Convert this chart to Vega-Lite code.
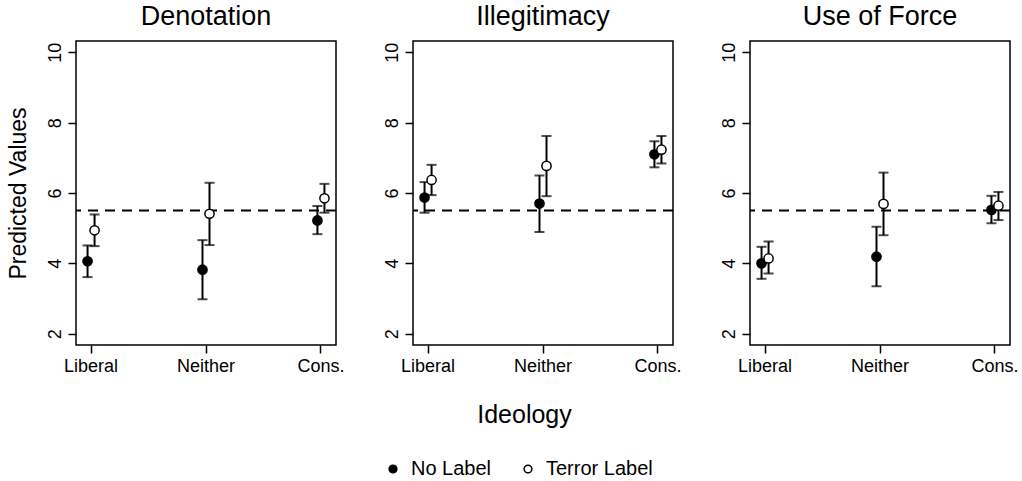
{
  "$schema": "https://vega.github.io/schema/vega-lite/v6.json",
  "padding": {"left": 6, "top": 2, "right": 5, "bottom": 5},
  "background": "white",
  "bounds": "flush",
  "spacing": 77,
  "datasets": {
    "est": [
      {"panel": "Denotation", "ideology": "Liberal", "group": "No Label", "est": 4.06, "lo": 3.61, "hi": 4.51},
      {"panel": "Denotation", "ideology": "Liberal", "group": "Terror Label", "est": 4.94, "lo": 4.49, "hi": 5.39},
      {"panel": "Denotation", "ideology": "Neither", "group": "No Label", "est": 3.82, "lo": 2.98, "hi": 4.66},
      {"panel": "Denotation", "ideology": "Neither", "group": "Terror Label", "est": 5.41, "lo": 4.52, "hi": 6.29},
      {"panel": "Denotation", "ideology": "Cons.", "group": "No Label", "est": 5.22, "lo": 4.83, "hi": 5.63},
      {"panel": "Denotation", "ideology": "Cons.", "group": "Terror Label", "est": 5.85, "lo": 5.44, "hi": 6.26},
      {"panel": "Illegitimacy", "ideology": "Liberal", "group": "No Label", "est": 5.87, "lo": 5.44, "hi": 6.31},
      {"panel": "Illegitimacy", "ideology": "Liberal", "group": "Terror Label", "est": 6.37, "lo": 5.94, "hi": 6.8},
      {"panel": "Illegitimacy", "ideology": "Neither", "group": "No Label", "est": 5.7, "lo": 4.89, "hi": 6.5},
      {"panel": "Illegitimacy", "ideology": "Neither", "group": "Terror Label", "est": 6.77, "lo": 5.91, "hi": 7.62},
      {"panel": "Illegitimacy", "ideology": "Cons.", "group": "No Label", "est": 7.1, "lo": 6.73, "hi": 7.47},
      {"panel": "Illegitimacy", "ideology": "Cons.", "group": "Terror Label", "est": 7.23, "lo": 6.84, "hi": 7.62},
      {"panel": "Use of Force", "ideology": "Liberal", "group": "No Label", "est": 4.0, "lo": 3.56, "hi": 4.47},
      {"panel": "Use of Force", "ideology": "Liberal", "group": "Terror Label", "est": 4.14, "lo": 3.71, "hi": 4.62},
      {"panel": "Use of Force", "ideology": "Neither", "group": "No Label", "est": 4.19, "lo": 3.35, "hi": 5.04},
      {"panel": "Use of Force", "ideology": "Neither", "group": "Terror Label", "est": 5.69, "lo": 4.8, "hi": 6.58},
      {"panel": "Use of Force", "ideology": "Cons.", "group": "No Label", "est": 5.52, "lo": 5.14, "hi": 5.92},
      {"panel": "Use of Force", "ideology": "Cons.", "group": "Terror Label", "est": 5.64, "lo": 5.23, "hi": 6.03}
    ],
    "ref": [{"ref": 5.5}]
  },
  "hconcat": [
    {
      "title": {"text": "Denotation"},
      "width": 260, "height": 304,
      "layer": [
        {
          "data": {"name": "ref"},
          "mark": {"type": "rule", "strokeDash": [10, 7], "strokeWidth": 2, "color": "black"},
          "encoding": {"y": {"field": "ref", "type": "quantitative", "scale": {"domain": [1.68, 10.32], "nice": false, "zero": false}, "axis": {"title": "Predicted Values", "values": [2, 4, 6, 8, 10]}}}
        },
        {
          "data": {"name": "est"},
          "transform": [{"filter": "datum.panel === 'Denotation'"}],
          "encoding": {
            "x": {"field": "ideology", "type": "nominal", "sort": ["Liberal", "Neither", "Cons."], "scale": {"type": "band", "domain": ["Liberal", "Neither", "Cons."], "paddingInner": 0.878, "paddingOuter": 0.07}, "axis": {"title": null}},
            "xOffset": {"field": "group", "type": "nominal", "scale": {"domain": ["No Label", "Terror Label"], "paddingInner": 0, "paddingOuter": 0}}
          },
          "layer": [
            {"mark": {"type": "rule", "strokeWidth": 2, "color": "black"}, "encoding": {"y": {"field": "lo", "type": "quantitative"}, "y2": {"field": "hi"}}},
            {"mark": {"type": "tick", "orient": "horizontal", "size": 10, "thickness": 2, "color": "black"}, "encoding": {"y": {"field": "hi", "type": "quantitative"}}},
            {"mark": {"type": "tick", "orient": "horizontal", "size": 10, "thickness": 2, "color": "black"}, "encoding": {"y": {"field": "lo", "type": "quantitative"}}},
            {"mark": {"type": "point", "shape": "circle", "filled": true, "size": 85, "stroke": "black", "strokeWidth": 1.5, "opacity": 1}, "encoding": {"y": {"field": "est", "type": "quantitative"}, "fill": {"field": "group", "type": "nominal", "scale": {"domain": ["No Label", "Terror Label"], "range": ["black", "white"]}, "legend": {"title": null, "orient": "none", "direction": "horizontal", "legendX": 307, "legendY": 418}}}}
          ]
        }
      ]
    },
    {
      "title": {"text": "Illegitimacy"},
      "width": 260, "height": 304,
      "layer": [
        {
          "data": {"name": "ref"},
          "mark": {"type": "rule", "strokeDash": [10, 7], "strokeWidth": 2, "color": "black"},
          "encoding": {"y": {"field": "ref", "type": "quantitative", "scale": {"domain": [1.68, 10.32], "nice": false, "zero": false}, "axis": {"title": null, "values": [2, 4, 6, 8, 10]}}}
        },
        {
          "data": {"name": "est"},
          "transform": [{"filter": "datum.panel === 'Illegitimacy'"}],
          "encoding": {
            "x": {"field": "ideology", "type": "nominal", "sort": ["Liberal", "Neither", "Cons."], "scale": {"type": "band", "domain": ["Liberal", "Neither", "Cons."], "paddingInner": 0.878, "paddingOuter": 0.07}, "axis": {"title": "Ideology", "titlePadding": 27, "titleFontSize": 25, "titleX": 111}},
            "xOffset": {"field": "group", "type": "nominal", "scale": {"domain": ["No Label", "Terror Label"], "paddingInner": 0, "paddingOuter": 0}}
          },
          "layer": [
            {"mark": {"type": "rule", "strokeWidth": 2, "color": "black"}, "encoding": {"y": {"field": "lo", "type": "quantitative"}, "y2": {"field": "hi"}}},
            {"mark": {"type": "tick", "orient": "horizontal", "size": 10, "thickness": 2, "color": "black"}, "encoding": {"y": {"field": "hi", "type": "quantitative"}}},
            {"mark": {"type": "tick", "orient": "horizontal", "size": 10, "thickness": 2, "color": "black"}, "encoding": {"y": {"field": "lo", "type": "quantitative"}}},
            {"mark": {"type": "point", "shape": "circle", "filled": true, "size": 85, "stroke": "black", "strokeWidth": 1.5, "opacity": 1}, "encoding": {"y": {"field": "est", "type": "quantitative"}, "fill": {"field": "group", "type": "nominal", "scale": {"domain": ["No Label", "Terror Label"], "range": ["black", "white"]}}}}
          ]
        }
      ]
    },
    {
      "title": {"text": "Use of Force"},
      "width": 260, "height": 304,
      "layer": [
        {
          "data": {"name": "ref"},
          "mark": {"type": "rule", "strokeDash": [10, 7], "strokeWidth": 2, "color": "black"},
          "encoding": {"y": {"field": "ref", "type": "quantitative", "scale": {"domain": [1.68, 10.32], "nice": false, "zero": false}, "axis": {"title": null, "values": [2, 4, 6, 8, 10]}}}
        },
        {
          "data": {"name": "est"},
          "transform": [{"filter": "datum.panel === 'Use of Force'"}],
          "encoding": {
            "x": {"field": "ideology", "type": "nominal", "sort": ["Liberal", "Neither", "Cons."], "scale": {"type": "band", "domain": ["Liberal", "Neither", "Cons."], "paddingInner": 0.878, "paddingOuter": 0.07}, "axis": {"title": null}},
            "xOffset": {"field": "group", "type": "nominal", "scale": {"domain": ["No Label", "Terror Label"], "paddingInner": 0, "paddingOuter": 0}}
          },
          "layer": [
            {"mark": {"type": "rule", "strokeWidth": 2, "color": "black"}, "encoding": {"y": {"field": "lo", "type": "quantitative"}, "y2": {"field": "hi"}}},
            {"mark": {"type": "tick", "orient": "horizontal", "size": 10, "thickness": 2, "color": "black"}, "encoding": {"y": {"field": "hi", "type": "quantitative"}}},
            {"mark": {"type": "tick", "orient": "horizontal", "size": 10, "thickness": 2, "color": "black"}, "encoding": {"y": {"field": "lo", "type": "quantitative"}}},
            {"mark": {"type": "point", "shape": "circle", "filled": true, "size": 85, "stroke": "black", "strokeWidth": 1.5, "opacity": 1}, "encoding": {"y": {"field": "est", "type": "quantitative"}, "fill": {"field": "group", "type": "nominal", "scale": {"domain": ["No Label", "Terror Label"], "range": ["black", "white"]}}}}
          ]
        }
      ]
    }
  ],
  "config": {
    "font": "Liberation Sans",
    "view": {"stroke": "black", "strokeWidth": 1.5},
    "title": {"fontSize": 27, "fontWeight": "normal", "color": "black", "offset": 10, "anchor": "middle"},
    "axis": {
      "domain": false,
      "grid": false,
      "ticks": true,
      "tickColor": "black",
      "tickWidth": 1.5,
      "tickSize": 8,
      "labelColor": "black",
      "labelFontSize": 18,
      "labelFont": "Liberation Sans",
      "titleFont": "Liberation Sans",
      "titleFontWeight": "normal",
      "titleColor": "black",
      "titleFontSize": 23
    },
    "axisY": {"labelAngle": -90, "labelPadding": 4, "titlePadding": 16},
    "axisX": {"labelAngle": 0, "labelPadding": 4},
    "legend": {
      "labelFontSize": 20,
      "labelColor": "black",
      "symbolStrokeColor": "black",
      "symbolStrokeWidth": 1.5,
      "symbolSize": 60,
      "symbolType": "circle",
      "columnPadding": 26,
      "labelOffset": 8
    }
  }
}
